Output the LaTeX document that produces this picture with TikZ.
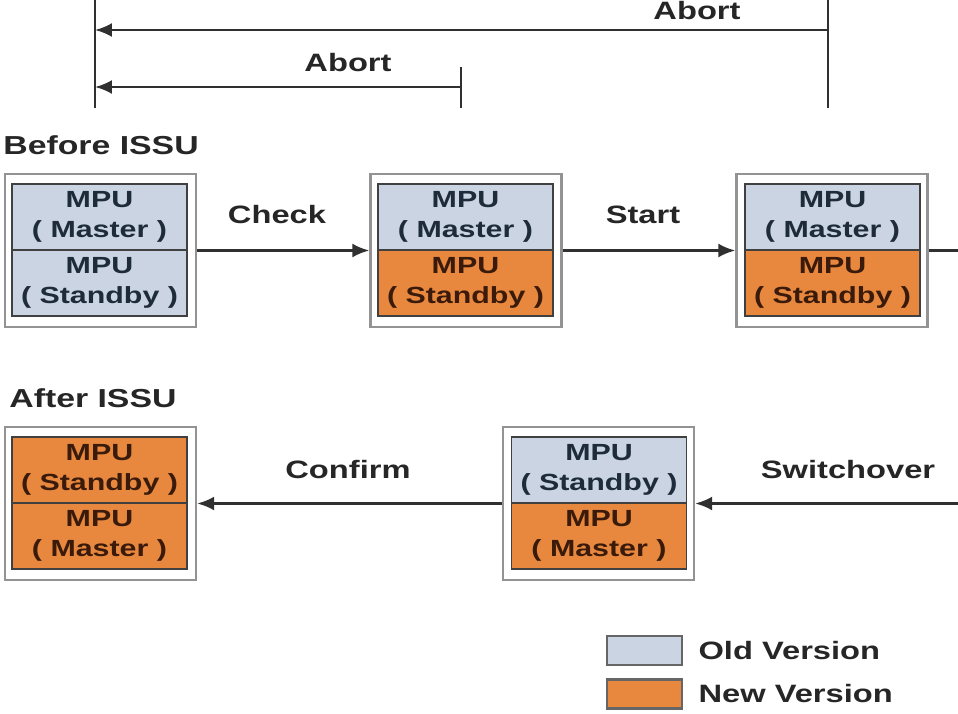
\documentclass[tikz,border=0pt]{standalone}
\usepackage{fontspec}
\setmainfont{Liberation Sans}[FakeStretch=1.3]
\usetikzlibrary{arrows.meta,positioning}
\definecolor{oldver}{HTML}{CAD4E2}
\definecolor{newver}{HTML}{E8883E}
\definecolor{oldtext}{HTML}{1E2B3A}
\definecolor{newtext}{HTML}{3A1A0A}
\definecolor{linegray}{HTML}{303030}

\begin{document}
\begin{tikzpicture}[
    x=0.02cm, y=-0.02cm,
    frame/.style={draw=gray!85, line width=1.4pt, fill=white, minimum width=3.82cm, minimum height=3.06cm, inner sep=0pt},
    oldpart/.style={draw=black!75, line width=1pt, fill=oldver, text=oldtext, minimum width=3.5cm, minimum height=1.32cm, inner sep=0pt, align=center, font=\bfseries\fontsize{13.3}{17}\selectfont},
    newpart/.style={oldpart, fill=newver, text=newtext},
    lbl/.style={text=black!85, font=\bfseries\fontsize{14.3}{17}\selectfont, inner sep=0pt},
    heading/.style={lbl, anchor=west, font=\bfseries\fontsize{14.8}{18}\selectfont},
    arrow/.style={-{Latex[length=3.4mm,width=2.8mm]}, line width=1.4pt, draw=linegray}
  ]
  \useasboundingbox[fill=white] (0,0) rectangle (958,714);

  % abort ranges
  \coordinate (ltop) at (95,0);
  \coordinate (lbot) at (95,108);
  \coordinate (rtop) at (828,0);
  \coordinate (rbot) at (828,108);
  \coordinate (mtop) at (461,67);
  \coordinate (mbot) at (461,108);
  \draw[line width=1.4pt, linegray] (ltop) -- (lbot);
  \draw[line width=1.4pt, linegray] (rtop) -- (rbot);
  \draw[line width=1.4pt, linegray] (mtop) -- (mbot);
  \coordinate (abortlong) at (828,30);
  \coordinate (abortlongend) at (95,30);
  \coordinate (abortshort) at (461,87);
  \coordinate (abortshortend) at (95,87);
  \draw[arrow] (abortlong) -- (abortlongend);
  \draw[arrow] (abortshort) -- (abortshortend);
  \node[lbl] (abort1) at (697,11) {Abort};
  \node[lbl] (abort2) at (348,63) {Abort};

  % before ISSU
  \node[heading] (before) at (3,145) {Before ISSU};
  \node[frame] (b1) at (100.5,250.5) {};
  \node[oldpart] (b1m) at (99.5,217) {MPU\\( Master )};
  \node[oldpart] (b1s) at (99.5,283) {MPU\\( Standby )};
  \node[frame] (b2) at (466,250.5) {};
  \node[oldpart] (b2m) at (465.5,217) {MPU\\( Master )};
  \node[newpart] (b2s) at (465.5,283) {MPU\\( Standby )};
  \node[frame] (b3) at (832,250.5) {};
  \node[oldpart] (b3m) at (832.5,217) {MPU\\( Master )};
  \node[newpart] (b3s) at (832.5,283) {MPU\\( Standby )};
  \coordinate (b3out) at (958,250.5);
  \draw[arrow] (b1) -- (b2);
  \draw[arrow] (b2) -- (b3);
  \draw[line width=1.4pt, linegray] (b3) -- (b3out);
  \node[lbl] (check) at (277,215) {Check};
  \node[lbl] (start) at (643,215) {Start};

  % after ISSU
  \node[heading] (after) at (9,398) {After ISSU};
  \node[frame] (a1) at (100.5,503.5) {};
  \node[newpart] (a1s) at (99.5,470) {MPU\\( Standby )};
  \node[newpart] (a1m) at (99.5,536) {MPU\\( Master )};
  \node[frame] (a2) at (598.5,503.5) {};
  \node[oldpart] (a2s) at (599,470) {MPU\\( Standby )};
  \node[newpart] (a2m) at (599,536) {MPU\\( Master )};
  \coordinate (a2in) at (958,503.5);
  \draw[arrow] (a2in) -- (a2);
  \draw[arrow] (a2) -- (a1);
  \node[lbl] (switch) at (848,470) {Switchover};
  \node[lbl] (confirm) at (348,470) {Confirm};

  % legend
  \node[oldpart, draw=black!60, line width=1.4pt, minimum width=1.5cm, minimum height=0.58cm] (oldkey) at (644.5,650.5) {};
  \node[newpart, draw=black!60, line width=1.4pt, minimum width=1.5cm, minimum height=0.58cm] (newkey) at (644.5,694) {};
  \node[lbl, right=0.3cm of oldkey] (oldtxt) {Old Version};
  \node[lbl, right=0.3cm of newkey] (newtxt) {New Version};
\end{tikzpicture}
\end{document}
